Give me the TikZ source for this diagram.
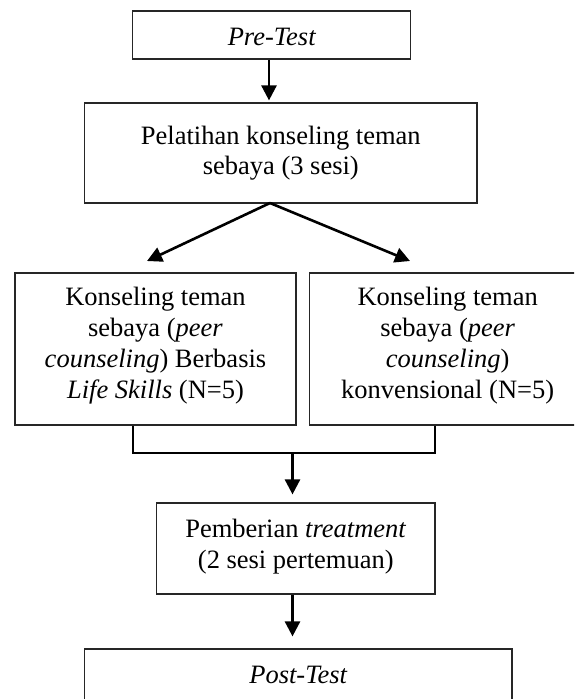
\documentclass[tikz,border=0pt]{standalone}
\usepackage{fontspec}
\setmainfont{Liberation Serif}
\usetikzlibrary{arrows.meta,calc}
\begin{document}
\begin{tikzpicture}[x=1pt,y=-1pt,
  font=\fontsize{26.5}{31}\selectfont,
  boxnode/.style={draw=black!85,line width=1.2pt,inner sep=0pt,rectangle},
  txt/.style={align=center,inner sep=0pt},
  arr/.style={line width=2.6pt,-{Triangle[length=15pt,width=15pt]}},
  link/.style={line width=2pt}]
\useasboundingbox (0,0) rectangle (574,699);
\clip (0,0) rectangle (574,699);
% boxes
\node[boxnode,minimum width=278.3pt,minimum height=48pt] (pre) at (271.7,35) {};
\node[txt] (pret) at (271.7,36.5) {\itshape Pre-Test};
\node[boxnode,minimum width=392.4pt,minimum height=100pt] (pel) at (280.8,153) {};
\node[txt,font=\fontsize{26.5}{30.5}\selectfont] (pelt) at (280.8,153) {Pelatihan konseling teman\\sebaya (3 sesi)};
\node[boxnode,minimum width=281pt,minimum height=152pt] (lb) at (155.5,349) {};
\node[txt] (lbt) at (155.5,345.5) {Konseling teman\\sebaya (\textit{peer}\\\textit{counseling}) Berbasis\\\textit{Life Skills} (N=5)};
\node[boxnode,minimum width=276.6pt,minimum height=152pt] (rb) at (447.7,349) {};
\node[txt] (rbt) at (447.7,345.5) {Konseling teman\\sebaya (\textit{peer}\\\textit{counseling})\\konvensional (N=5)};
\node[boxnode,minimum width=278.3pt,minimum height=91pt] (pem) at (295.8,548.5) {};
\node[txt] (pemt) at (295.8,546.5) {Pemberian \textit{treatment}\\(2 sesi pertemuan)};
\node[boxnode,minimum width=427.7pt,minimum height=60pt] (post) at (298.2,679) {};
\node[txt] (postt) at (298.2,674.5) {\itshape Post-Test};
% helper coordinates
\coordinate (ax) at (269,0);
\coordinate (apex) at (270,203);
\coordinate (tipL) at (147,261);
\coordinate (tipR) at (410,261);
\coordinate (bl) at (133,453);
\coordinate (br) at (435,453);
\coordinate (bc) at (292.5,453);
% connectors
\draw[arr] (pre.south -| ax) -- ($(pel.north -| ax)+(0,-2)$);
\draw[arr] (apex) -- (tipL);
\draw[arr] (apex) -- (tipR);
\draw[link] (lb.south -| bl) -- (bl) -- (br) -- (rb.south -| br);
\draw[arr] (bc) -- ($(pem.north -| bc)+(0,-8)$);
\draw[arr] (pem.south -| bc) -- ($(post.north -| bc)+(0,-12)$);
\end{tikzpicture}
\end{document}
